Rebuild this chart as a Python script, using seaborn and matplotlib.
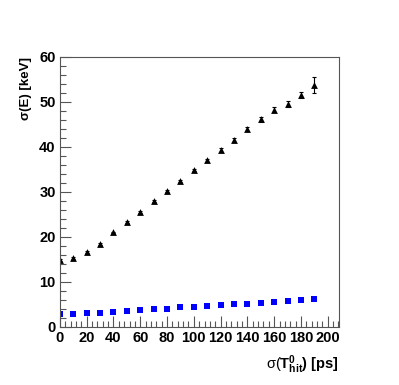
import numpy as np
import pandas as pd
import matplotlib
matplotlib.use("Agg")
import matplotlib.pyplot as plt
import seaborn as sns
from matplotlib.ticker import MultipleLocator

# sigma(T0_hit) in ps
sigma_t = [0, 10, 20, 30, 40, 50, 60, 70, 80, 90, 100, 110, 120, 130, 140, 150, 160, 170, 180, 190]
# triangles (black)
res_tri = [14.9, 15.3, 16.7, 18.5, 21.0, 23.3, 25.6, 27.9, 30.2, 32.4, 34.9, 37.0, 39.3, 41.6, 44.0,
           46.2, 48.3, 49.5, 51.6, 53.8]
err_tri = [0.2, 0.2, 0.2, 0.2, 0.2, 0.2, 0.25, 0.25, 0.3, 0.3, 0.3, 0.35, 0.4, 0.45, 0.5,
           0.55, 0.6, 0.65, 0.7, 1.7]
# squares (blue)
res_sq = [2.96, 2.96, 3.04, 3.19, 3.33, 3.48, 3.70, 3.93, 4.07, 4.37, 4.44, 4.59, 4.89, 5.04, 5.19,
          5.41, 5.48, 5.85, 5.93, 6.22]

df = pd.DataFrame({"t": sigma_t, "tri": res_tri, "sq": res_sq})

sns.set_style("white")
plt.rcParams["font.family"] = ["Liberation Sans", "DejaVu Sans"]
plt.rcParams["mathtext.fontset"] = "custom"
plt.rcParams["mathtext.rm"] = "Liberation Sans"
plt.rcParams["mathtext.it"] = "Liberation Sans"
plt.rcParams["mathtext.bf"] = "Liberation Sans:bold"

fig = plt.figure(figsize=(3.99, 3.85), dpi=100)
ax = fig.add_axes([0.150, 0.151, 0.700, 0.701])

ax.errorbar(df["t"], df["tri"], yerr=err_tri, fmt="none", ecolor="black", elinewidth=0.8, capsize=1.5, capthick=0.8)
sns.scatterplot(data=df, x="t", y="tri", marker="^", color="black", s=24, edgecolor="black", linewidth=0, ax=ax)
sns.scatterplot(data=df, x="t", y="sq", marker="s", color="blue", s=22, edgecolor="blue", linewidth=0, ax=ax)

ax.set_xlim(0, 208.5)
ax.set_ylim(0, 60)
ax.xaxis.set_major_locator(MultipleLocator(20))
ax.xaxis.set_minor_locator(MultipleLocator(4))
ax.yaxis.set_major_locator(MultipleLocator(10))
ax.yaxis.set_minor_locator(MultipleLocator(2))
ax.tick_params(which="both", direction="in", bottom=True, left=True, top=False, right=False,
               color="#555555", labelcolor="black", labelsize=10.5, width=0.8)
ax.tick_params(which="major", length=8, pad=3)
ax.tick_params(which="minor", length=4)
for lab in ax.get_xticklabels() + ax.get_yticklabels():
    lab.set_fontweight("bold")
for sp in ax.spines.values():
    sp.set_color("#555555")
    sp.set_linewidth(0.8)

ax.set_xlabel(r"$\sigma(\mathbf{T}^{\mathbf{0}}_{\mathbf{hit}}\mathbf{)}$ [ps]", fontsize=10.5,
              fontweight="bold", color="black")
ax.set_ylabel("σ(E) [keV]", fontsize=9.5, fontweight="bold", color="black")
ax.xaxis.set_label_coords(1.0, -0.10)
ax.xaxis.label.set_horizontalalignment("right")
ax.yaxis.set_label_coords(-0.10, 1.0)
ax.yaxis.label.set_horizontalalignment("right")

fig.savefig("out.png", dpi=100)
